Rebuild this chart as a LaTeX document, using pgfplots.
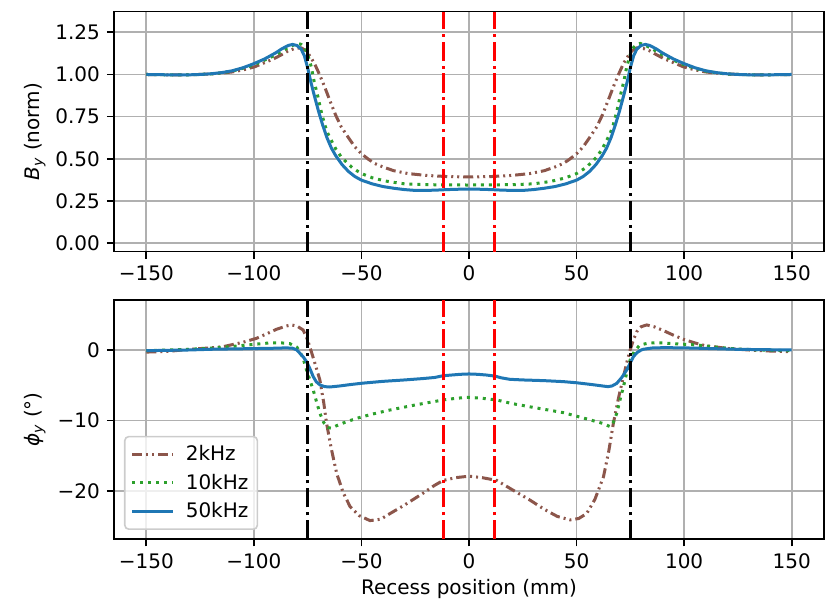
\documentclass[border=0pt]{standalone}
\usepackage{fontspec}
\setmainfont{DejaVu Sans}
\usepackage{pgfplots}
\pgfplotsset{compat=1.18}
\definecolor{cbrown}{HTML}{8C564B}
\definecolor{cgreen}{HTML}{2CA02C}
\definecolor{cblue}{HTML}{1F77B4}
\definecolor{cred}{HTML}{FF0000}
\definecolor{cgrid}{HTML}{B0B0B0}
\pgfplotsset{
  myax/.style={
    scale only axis, width=355pt,
    xmin=-165, xmax=165,
    xtick={-150,-100,-50,0,50,100,150},
    xticklabels={−150,−100,−50,0,50,100,150},
    xtick pos=bottom, ytick pos=left,
    tick align=outside, major tick length=3.5pt,
    every tick/.style={black, line width=0.8pt},
    axis line style={line width=0.8pt},
    grid=major, major grid style={color=cgrid, line width=0.8pt},
    ylabel style={at={(axis description cs:0,0.5)}, anchor=center, rotate=0, yshift=39.5pt},
    tick label style={font=\fontsize{10}{12}\selectfont},
    label style={font=\fontsize{10}{12}\selectfont},
  },
  s2k/.style={color=cbrown, line width=1.5pt, dash pattern=on 5pt off 2pt on 1pt off 2pt on 1pt off 2pt},
  s10k/.style={color=cgreen, line width=1.5pt, dash pattern=on 1.5pt off 2.475pt},
  s50k/.style={color=cblue, line width=1.5pt},
  vblack/.style={color=black, line width=1.5pt, dash pattern=on 9.6pt off 2.4pt on 1.5pt off 2.4pt, forget plot},
  vred/.style={color=cred, line width=1.5pt, dash pattern=on 9.6pt off 2.4pt on 1.5pt off 2.4pt, forget plot},
}
\begin{document}
\fontsize{10}{12}\selectfont
\begin{tikzpicture}
\path (-57pt,-37.85pt) rectangle (358.5pt,269.65pt);
% ---------------- top axis ----------------
\begin{axis}[myax, at={(0pt,143.8pt)}, anchor=south west, height=120pt,
  ymin=-0.05, ymax=1.372,
  ytick={0,0.25,0.5,0.75,1,1.25},
  yticklabels={0.00,0.25,0.50,0.75,1.00,1.25},
  ylabel={\textit{B}\textsubscript{\textit{y}} (norm)}]
\addplot[s2k] coordinates {
(-150,1.0)(-135,0.997)(-126,1.0)(-120,1.003)(-113.6,1.01)(-110,1.015)(-105,1.027)(-99.7,1.045)(-95,1.07)(-90.4,1.095)(-87,1.118)(-84,1.14)(-81,1.154)(-78,1.158)(-75.7,1.14)(-74,1.11)(-71.8,1.065)(-69.5,1.0)(-67.1,0.927)(-64.5,0.84)(-62,0.76)(-59.4,0.69)(-56,0.625)(-53,0.57)(-50.1,0.532)(-47,0.50)(-43.9,0.473)(-40,0.452)(-35,0.43)(-28.4,0.413)(-20,0.402)(-10,0.395)(0,0.393)
(10,0.395)(20,0.402)(28.4,0.413)(35,0.43)(40,0.452)(43.9,0.473)(47,0.50)(50.1,0.532)(53,0.57)(56,0.625)(59.4,0.69)(62,0.76)(64.5,0.84)(67.1,0.927)(69.5,1.0)(71.8,1.065)(74,1.11)(75.7,1.14)(78,1.158)(81,1.154)(84,1.14)(87,1.118)(90.4,1.095)(95,1.07)(99.7,1.045)(105,1.027)(110,1.015)(113.6,1.01)(120,1.003)(126,1.0)(135,0.997)(150,1.0)};
\addplot[s10k] coordinates {
(-150,1.0)(-140,0.998)(-130,0.998)(-120,1.003)(-115,1.01)(-110,1.02)(-105,1.037)(-100,1.057)(-95,1.085)(-90,1.115)(-87,1.138)(-84,1.16)(-81,1.178)(-79.5,1.184)(-78,1.178)(-76.5,1.16)(-75,1.12)(-73.3,1.045)(-72,0.96)(-70.2,0.867)(-68.5,0.77)(-67,0.70)(-65.6,0.65)(-64,0.61)(-62,0.56)(-59.4,0.512)(-57,0.48)(-54,0.445)(-50,0.413)(-45,0.388)(-40,0.372)(-36.7,0.364)(-30,0.352)(-20,0.347)(-10,0.346)(0,0.345)
(10,0.346)(20,0.347)(30,0.352)(36.7,0.364)(40,0.372)(45,0.388)(50,0.413)(54,0.445)(57,0.48)(59.4,0.512)(62,0.56)(64,0.61)(65.6,0.65)(67,0.70)(68.5,0.77)(70.2,0.867)(72,0.96)(73.3,1.045)(75,1.12)(76.5,1.16)(78,1.178)(79.5,1.184)(81,1.178)(84,1.16)(87,1.138)(90,1.115)(95,1.085)(100,1.057)(105,1.037)(110,1.02)(115,1.01)(120,1.003)(130,0.998)(140,0.998)(150,1.0)};
\addplot[s50k] coordinates {
(-150,1.0)(-140,0.998)(-130,0.998)(-125,1.0)(-120,1.004)(-115,1.011)(-110,1.022)(-105,1.04)(-100,1.064)(-95,1.092)(-90,1.127)(-87,1.152)(-84,1.172)(-82,1.178)(-80,1.172)(-78,1.15)(-76.5,1.11)(-75,1.04)(-73.5,0.955)(-72,0.88)(-70,0.785)(-68,0.70)(-66,0.625)(-64,0.565)(-62,0.52)(-59,0.466)(-56,0.425)(-53,0.395)(-50,0.374)(-45,0.352)(-40,0.336)(-35,0.326)(-30,0.318)(-25,0.313)(-20,0.313)(-15,0.315)(-10,0.318)(-5,0.320)(0,0.321)
(5,0.320)(10,0.318)(15,0.315)(20,0.313)(25,0.313)(30,0.318)(35,0.326)(40,0.336)(45,0.352)(50,0.374)(53,0.395)(56,0.425)(59,0.466)(62,0.52)(64,0.565)(66,0.625)(68,0.70)(70,0.785)(72,0.88)(73.5,0.955)(75,1.04)(76.5,1.11)(78,1.15)(80,1.172)(82,1.178)(84,1.172)(87,1.152)(90,1.127)(95,1.092)(100,1.064)(105,1.04)(110,1.022)(115,1.011)(120,1.004)(125,1.0)(130,0.998)(140,0.998)(150,1.0)};
\addplot[vblack] coordinates {(-75,-0.05)(-75,1.372)};
\addplot[vblack] coordinates {(75,-0.05)(75,1.372)};
\addplot[vred] coordinates {(-12,-0.05)(-12,1.372)};
\addplot[vred] coordinates {(12,-0.05)(12,1.372)};
\end{axis}
% ---------------- bottom axis ----------------
\begin{axis}[myax, at={(0pt,0pt)}, anchor=south west, height=119.65pt,
  ymin=-26.85, ymax=7.09,
  ytick={-20,-10,0},
  yticklabels={−20,−10,0},
  ylabel={\textit{ϕ}\textsubscript{\textit{y}} (°)},
  xlabel={Recess position (mm)},
  xlabel style={at={(axis description cs:0.5,0)}, anchor=center, yshift=-24.9pt},
  legend cell align=left,
  legend style={at={(axis description cs:0,0)}, anchor=south west, xshift=5pt, yshift=4.65pt,
    draw=black!20, line width=0.8pt, rounded corners=2pt, fill=white, fill opacity=0.8, text opacity=1,
    font=\fontsize{10}{12}\selectfont, row sep=2pt, column sep=4pt, inner sep=3pt,
    nodes={inner sep=1.5pt}},
  legend image code/.code={\draw[#1] (0pt,0pt) -- (20.5pt,0pt);}]
\addplot[s2k] coordinates {
(-150,-0.3)(-140,-0.2)(-129.8,0.1)(-120,0.3)(-114.3,0.47)(-105,1.1)(-98.8,1.65)(-94,2.3)(-89.5,2.93)(-85,3.4)(-82.5,3.55)(-80,3.4)(-77.1,2.84)(-75.5,1.8)(-74,0.47)(-72,-1.5)(-69.3,-4.26)(-67.5,-7.5)(-66.2,-10.4)(-64,-14.0)(-61.5,-17.5)(-58.5,-20.2)(-55.3,-22.2)(-51,-23.5)(-46,-24.2)(-41,-24.0)(-36.7,-23.2)(-30,-22.0)(-21.3,-20.3)(-16,-19.2)(-12,-18.5)(-6,-18.1)(0,-17.9)
(6,-18.1)(12.9,-18.5)(20,-19.8)(28.4,-21.3)(35,-22.6)(41,-23.6)(47,-24.1)(51,-23.9)(54.7,-23.2)(58.5,-21.2)(62.5,-18.0)(65,-14.3)(67.1,-10.4)(69.5,-6.8)(71.8,-3.78)(73.5,-1.6)(74.9,0.0)(76.5,1.5)(78,2.6)(80,3.3)(82.6,3.55)(86,3.3)(90,2.8)(95,2.1)(99.7,1.51)(105,1.0)(110,0.6)(121,0.19)(130,0.0)(140,-0.15)(150,-0.24)};
\addlegendentry{2kHz}
\addplot[s10k] coordinates {
(-150,-0.1)(-140,0.0)(-130,0.1)(-120,0.25)(-110,0.5)(-100,0.8)(-92.6,1.0)(-87,1.0)(-83.3,0.9)(-80,0.4)(-78.6,-0.24)(-77,-1.3)(-75.5,-2.84)(-74,-4.2)(-72.4,-5.67)(-71,-7.2)(-69.3,-8.98)(-67.5,-10.3)(-65.5,-11.0)(-64,-11.1)(-62,-10.8)(-58,-10.3)(-52.2,-9.69)(-45,-9.1)(-36.7,-8.51)(-25,-7.8)(-15,-7.25)(-12,-7.09)(-6,-6.85)(0,-6.71)
(6,-6.85)(12.9,-7.09)(20,-7.6)(30,-8.15)(43.9,-8.89)(55,-9.8)(62,-10.4)(65.6,-10.87)(67,-10.3)(68.7,-8.98)(70,-7.3)(71.8,-5.2)(73.5,-3.0)(74.9,-1.42)(77,-0.1)(79.5,0.71)(83,0.95)(87.3,1.04)(95,0.9)(105.9,0.71)(115,0.4)(124,0.15)(135,0.0)(150,-0.1)};
\addlegendentry{10kHz}
\addplot[s50k] coordinates {
(-150,-0.1)(-140,-0.05)(-130,0.0)(-120,0.1)(-110,0.15)(-100,0.2)(-90,0.25)(-85,0.3)(-82,0.25)(-80,0.0)(-78.6,-0.47)(-77,-1.0)(-75.5,-1.65)(-74,-2.6)(-72.4,-3.78)(-71,-4.5)(-69.3,-4.96)(-67,-5.2)(-64.7,-5.25)(-60,-5.1)(-55,-4.9)(-49.2,-4.7)(-40,-4.45)(-30,-4.25)(-21.3,-4.05)(-16,-3.9)(-12,-3.65)(-8,-3.55)(-4,-3.45)(0,-3.4)
(4,-3.45)(8,-3.55)(12,-3.7)(15,-3.95)(19,-4.16)(25,-4.25)(35,-4.35)(43.9,-4.49)(50,-4.65)(57,-4.9)(62,-5.1)(64.5,-5.2)(66.5,-5.1)(68.7,-4.73)(71,-3.9)(73.3,-2.84)(75,-1.8)(76.4,-0.95)(78,-0.4)(80,0.0)(81,0.1)(85,0.28)(90.4,0.33)(100,0.3)(110,0.22)(124,0.1)(135,0.05)(150,0.0)};
\addlegendentry{50kHz}
\addplot[vblack] coordinates {(-75,-26.85)(-75,7.09)};
\addplot[vblack] coordinates {(75,-26.85)(75,7.09)};
\addplot[vred] coordinates {(-12,-26.85)(-12,7.09)};
\addplot[vred] coordinates {(12,-26.85)(12,7.09)};
\end{axis}
\end{tikzpicture}
\end{document}
